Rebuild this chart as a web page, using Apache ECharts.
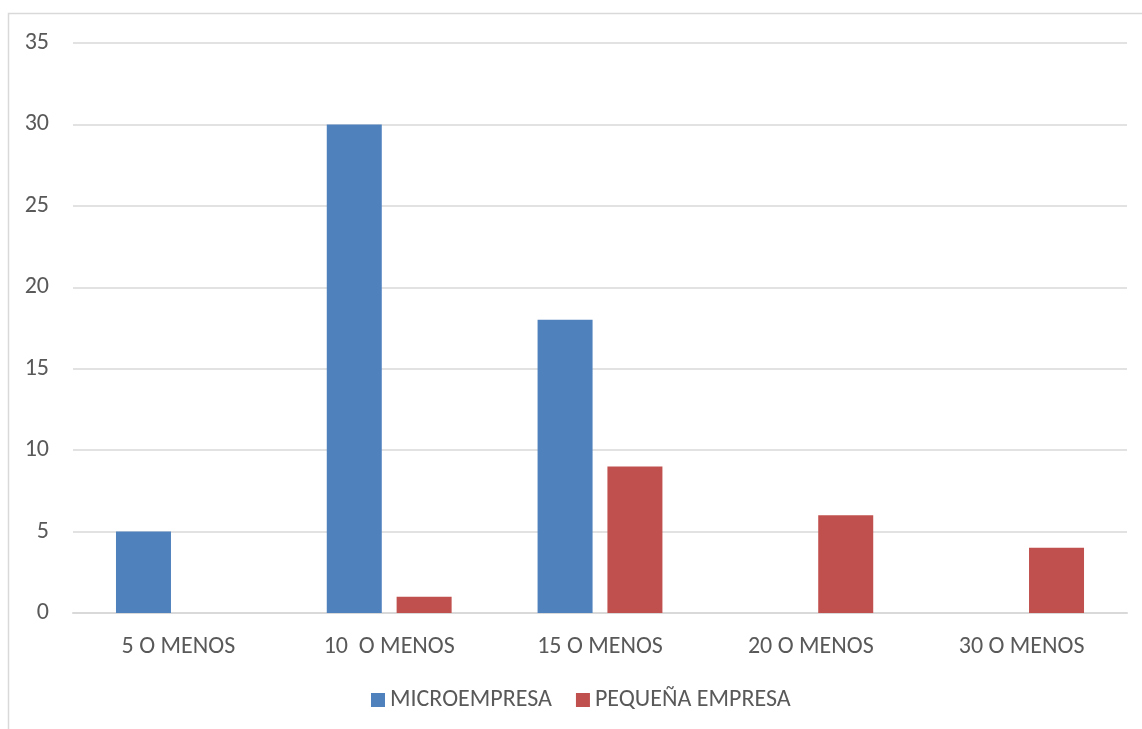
<!DOCTYPE html>
<html>
<head>
<meta charset="utf-8">
<style>
  html, body { margin: 0; padding: 0; background: #ffffff; }
  #chart { width: 1142px; height: 729px; }
</style>
<script src="https://cdn.jsdelivr.net/npm/echarts@6/dist/echarts.min.js"></script>
</head>
<body>
<div id="chart"></div>
<script>
// Empresas por número de trabajadores
const categories = ['5 O MENOS', '10  O MENOS', '15 O MENOS', '20 O MENOS', '30 O MENOS'];
const microempresa = [5, 30, 18, null, null];
const pequenaEmpresa = [null, 1, 9, 6, 4];
const seriesNames = ['MICROEMPRESA', 'PEQUEÑA EMPRESA'];

const FONT = 'Carlito, Lato, "Open Sans", sans-serif';
const TEXT = '#595959';

const chart = echarts.init(document.getElementById('chart'), null, { renderer: 'canvas' });
chart.setOption({
  animation: false,
  backgroundColor: '#ffffff',
  textStyle: { fontFamily: FONT },
  graphic: [{
    type: 'rect',
    shape: { x: 8.5, y: 13.5, width: 1140, height: 720 },
    style: { fill: 'none', stroke: '#d9d9d9', lineWidth: 1.5 },
    silent: true
  }],
  grid: { left: 73, right: 15, top: 43, bottom: 116 },
  legend: {
    data: seriesNames,
    top: 683,
    left: 366,
    itemWidth: 14,
    itemHeight: 14,
    itemGap: 24,
    icon: 'rect',
    textStyle: { color: TEXT, fontSize: 24, fontFamily: FONT }
  },
  xAxis: {
    type: 'category',
    data: categories,
    axisLine: { lineStyle: { color: '#d9d9d9', width: 2 } },
    axisTick: { show: false },
    axisLabel: { color: TEXT, fontSize: 24, margin: 22, fontFamily: FONT }
  },
  yAxis: {
    type: 'value',
    min: 0,
    max: 35,
    interval: 5,
    axisLine: { show: false },
    axisTick: { show: false },
    splitLine: { lineStyle: { color: '#d9d9d9', width: 1.5 } },
    axisLabel: { color: TEXT, fontSize: 24, margin: 24, fontFamily: FONT }
  },
  series: [
    {
      name: seriesNames[0],
      type: 'bar',
      data: microempresa,
      barWidth: 55,
      barGap: '27%',
      itemStyle: { color: '#4f81bd' }
    },
    {
      name: seriesNames[1],
      type: 'bar',
      data: pequenaEmpresa,
      barWidth: 55,
      barGap: '27%',
      itemStyle: { color: '#c0504d' }
    }
  ]
});
</script>
</body>
</html>
